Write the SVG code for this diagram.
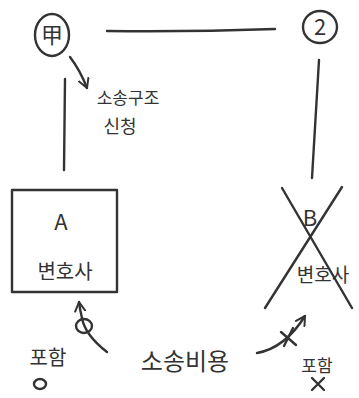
<svg xmlns="http://www.w3.org/2000/svg" width="359" height="398" viewBox="0 0 359 398">
<style>
.ln{fill:none;stroke:#333;stroke-width:2.4;stroke-linecap:round;stroke-linejoin:round}
.t{font-family:"Noto Sans CJK KR","Noto Sans CJK SC",sans-serif;fill:#333;text-anchor:middle}
</style>
<defs>
<marker id="ah" viewBox="0 0 12 12" refX="10" refY="6" markerWidth="12" markerHeight="12" markerUnits="userSpaceOnUse" orient="auto">
<path d="M1,1 L10,6 L1,11" fill="none" stroke="#333" stroke-width="2" stroke-linecap="round" stroke-linejoin="round"/>
</marker>
</defs>
<rect width="359" height="398" fill="#fff"/>
<g id="node-gap">
<ellipse class="ln" cx="52" cy="35" rx="17" ry="21"/>
<text class="t" x="52" y="43" font-size="22">甲</text>
</g>
<g id="node-2">
<ellipse class="ln" cx="320" cy="27" rx="17" ry="16"/>
<text class="t" x="320" y="35" font-size="22" font-family="Liberation Sans">2</text>
</g>
<g id="label-request">
<text class="t" x="128" y="104" font-size="17">소송구조</text>
<text class="t" x="120" y="133" font-size="18">신청</text>
</g>
<g id="node-A">
<rect class="ln" x="12" y="190" width="105" height="102"/>
<text class="t" x="61" y="230" font-size="22">A</text>
<text class="t" x="65" y="279" font-size="20">변호사</text>
</g>
<g id="node-B">
<text class="t" x="310" y="226" font-size="22">B</text>
<text class="t" x="323" y="282" font-size="19">변호사</text>
<line class="ln" x1="282" y1="188" x2="352" y2="308"/>
<line class="ln" x1="342" y1="187" x2="265" y2="308"/>
</g>
<g id="label-cost">
<text class="t" x="185" y="370" font-size="24">소송비용</text>
</g>
<g id="label-incl-yes">
<text class="t" x="48" y="365" font-size="20">포함</text>
<ellipse class="ln" cx="40" cy="384" rx="6" ry="5"/>
</g>
<g id="label-incl-no">
<text class="t" x="317" y="372" font-size="17">포함</text>
<path class="ln" d="M312,378 L324,390 M324,378 L312,390"/>
</g>
<g id="connectors">
<path class="ln" d="M107,31 Q190,32 275,29"/>
<path class="ln" d="M65,79 L64,170"/>
<path class="ln" d="M319,60 L312,178"/>
<path class="ln" d="M70,57 Q80,70 87,88" marker-end="url(#ah)"/>
<path class="ln" d="M107,352 Q85,335 82,318 Q80,310 79,302" marker-end="url(#ah)"/>
<ellipse class="ln" cx="84" cy="326" rx="8" ry="7"/>
<path class="ln" d="M257,353 Q285,348 305,316" marker-end="url(#ah)"/>
<path class="ln" d="M281,332 L296,345 M284,346 L293,328"/>
</g>
</svg>
